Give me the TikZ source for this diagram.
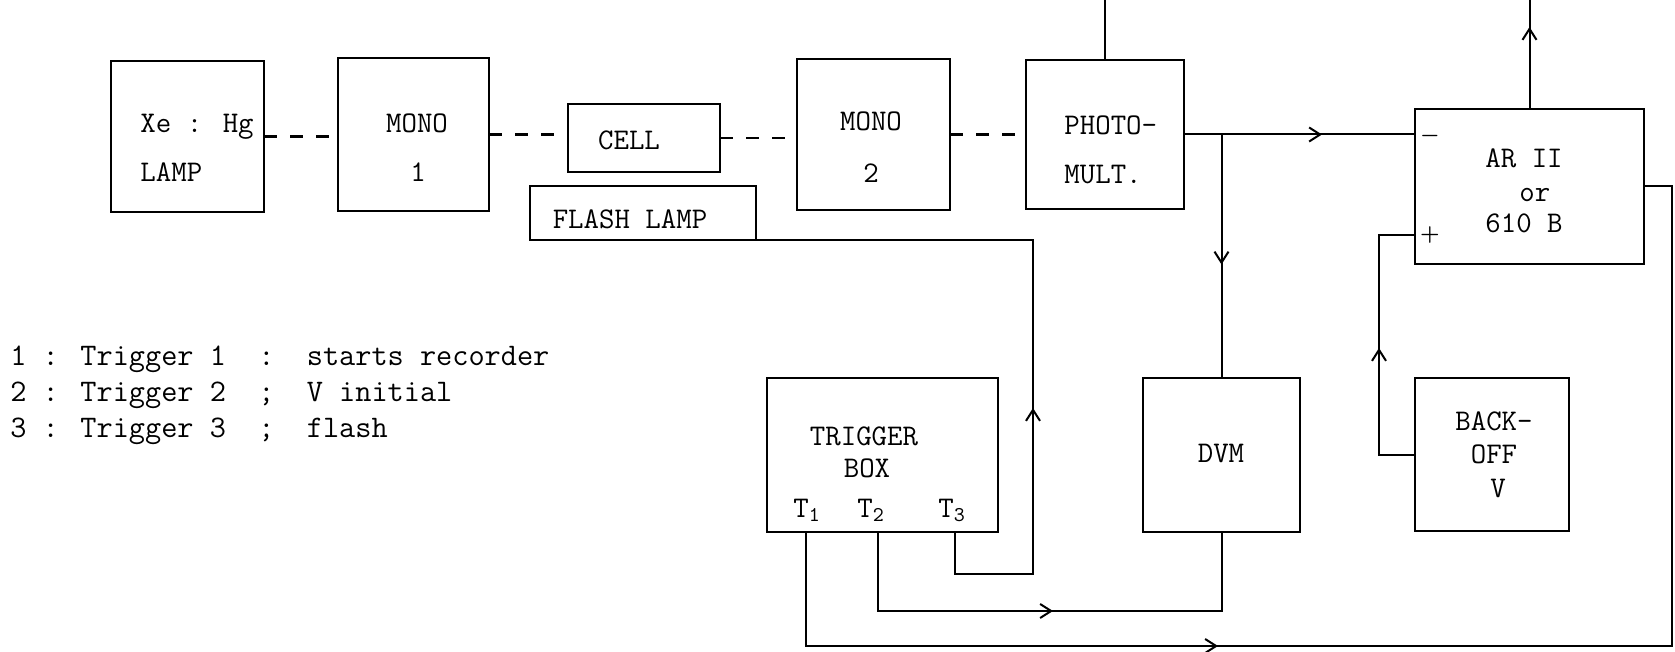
\documentclass[tikz,border=0pt]{standalone}
\usetikzlibrary{arrows.meta,decorations.markings}
\tikzset{
  box/.style={draw, line width=1.3pt, inner sep=0pt, outer sep=0pt},
  txt/.style={font=\fontsize{15}{18}\selectfont\ttfamily, inner sep=0pt},
  legtxt/.style={font=\fontsize{15.7}{18}\selectfont\ttfamily, inner sep=0pt, anchor=base west},
  wire/.style={line width=1pt},
  optic/.style={line width=1.3pt, dash pattern=on 6.5pt off 6.5pt},
  midarrow/.style={postaction={decorate}, decoration={markings, mark=at position #1 with {\arrow{Straight Barb[length=5.5pt,width=7pt]}}}},
  sign/.style={font=\fontsize{11}{11}\selectfont\boldmath, inner sep=0pt}
}
\begin{document}
\begin{tikzpicture}[x=0.5pt,y=-0.5pt]
\useasboundingbox (0,0) rectangle (1675,652);
\coordinate (topedge) at (0,0);

% boxes
\node[box, minimum width=76.5pt, minimum height=75.5pt] (xe) at (187.5,136.5) {};
\node[box, minimum width=75.5pt, minimum height=76.5pt] (mono1) at (413.5,134.5) {};
\node[box, minimum width=76pt, minimum height=34pt] (cell) at (644,138) {};
\node[box, minimum width=113pt, minimum height=27pt] (flash) at (643,213) {};
\node[box, minimum width=76.5pt, minimum height=75.5pt] (mono2) at (873.5,134.5) {};
\node[box, minimum width=79pt, minimum height=74.5pt] (pm) at (1105,134.5) {};
\node[box, minimum width=114.5pt, minimum height=77.5pt] (ar) at (1529.5,186.5) {};
\node[box, minimum width=115.5pt, minimum height=77pt] (trig) at (882.5,455) {};
\node[box, minimum width=78.5pt, minimum height=77pt] (dvm) at (1221.5,455) {};
\node[box, minimum width=77pt, minimum height=76.5pt] (back) at (1492,454.5) {};

% box texts
\node[txt, anchor=base west] (xe1) at (140,133) {Xe : Hg};
\node[txt, anchor=base west] (xe2) at (140,182) {LAMP};
\node[txt, anchor=base] (m1a) at (417,133) {MONO};
\node[txt, anchor=base] (m1b) at (418,182) {1};
\node[txt, anchor=base] (cellt) at (629,150) {CELL};
\node[txt, anchor=base] (flasht) at (630,228) {FLASH LAMP};
\node[txt, anchor=base] (m2a) at (871,131) {MONO};
\node[txt, anchor=base] (m2b) at (871,183) {2};
\node[txt, anchor=base west] (pma) at (1064,135) {PHOTO-};
\node[txt, anchor=base west] (pmb) at (1064,184) {MULT.};
\node[txt, anchor=base west] (ara) at (1485,168) {AR II};
\node[txt, anchor=base west] (arb) at (1519,202) {or};
\node[txt, anchor=base west] (arc) at (1485,233) {610 B};
\node[sign] (minus) at (1430,136) {$-$};
\node[sign] (plus) at (1430,235) {$+$};
\node[txt, anchor=base] (tra) at (864,445) {TRIGGER};
\node[txt, anchor=base] (trb) at (867,477) {BOX};
\node[txt, anchor=base west] (t1l) at (793,517) {T\textsubscript{1}};
\node[txt, anchor=base west] (t2l) at (857,517) {T\textsubscript{2}};
\node[txt, anchor=base west] (t3l) at (938,517) {T\textsubscript{3}};
\node[txt, anchor=base] (dvmt) at (1221,462) {DVM};
\node[txt, anchor=base] (bka) at (1494,430) {BACK-};
\node[txt, anchor=base] (bkb) at (1494,463) {OFF};
\node[txt, anchor=base] (bkc) at (1498,497) {V};

% legend
\node[legtxt] (leg1) at (10,365) {1 : Trigger 1\ \ :\ \ starts recorder};
\node[legtxt] (leg2) at (10,401) {2 : Trigger 2\ \ ;\ \ V initial};
\node[legtxt] (leg3) at (10,437) {3 : Trigger 3\ \ ;\ \ flash};

% optical path
\draw[optic] (xe.east) -- (xe.east -| mono1.west);
\draw[optic] (mono1.east) -- (mono1.east -| cell.west);
\draw[optic] (cell.east) -- (cell.east -| mono2.west);
\draw[optic] (mono2.east) -- (mono2.east -| pm.west);

% electrical connections
\draw[wire] (pm.north) -- (pm.north |- topedge);
\draw[wire, midarrow=69pt] (pm.east) -- (pm.east -| ar.west);
\coordinate (br) at (pm.east -| dvm.north);
\draw[wire, midarrow=65pt] (br) -- (dvm.north);
\draw[wire, midarrow=41pt] (ar.north) -- (ar.north |- topedge);
\coordinate (arplus) at ([yshift=14.5pt]ar.south west);
\draw[wire, midarrow=71.25pt] (back.west) -- ++(-36,0) |- (arplus);

\coordinate (t1) at (806,532);
\coordinate (t2) at (878,532);
\coordinate (t3) at (955,532);
\coordinate (flashup) at ([xshift=138.5pt]flash.south east);
\draw[wire, midarrow=143pt] (t3) -- ++(0,42) -| (flashup) -- (flash.south east);
\draw[wire, midarrow=127pt] (t2) -- ++(0,79) -| (dvm.south);
\coordinate (rc) at ([xshift=14pt]ar.east);
\draw[wire, midarrow=263pt] (t1) -- ++(0,114) -| (rc) -- (ar.east);
\end{tikzpicture}
\end{document}
